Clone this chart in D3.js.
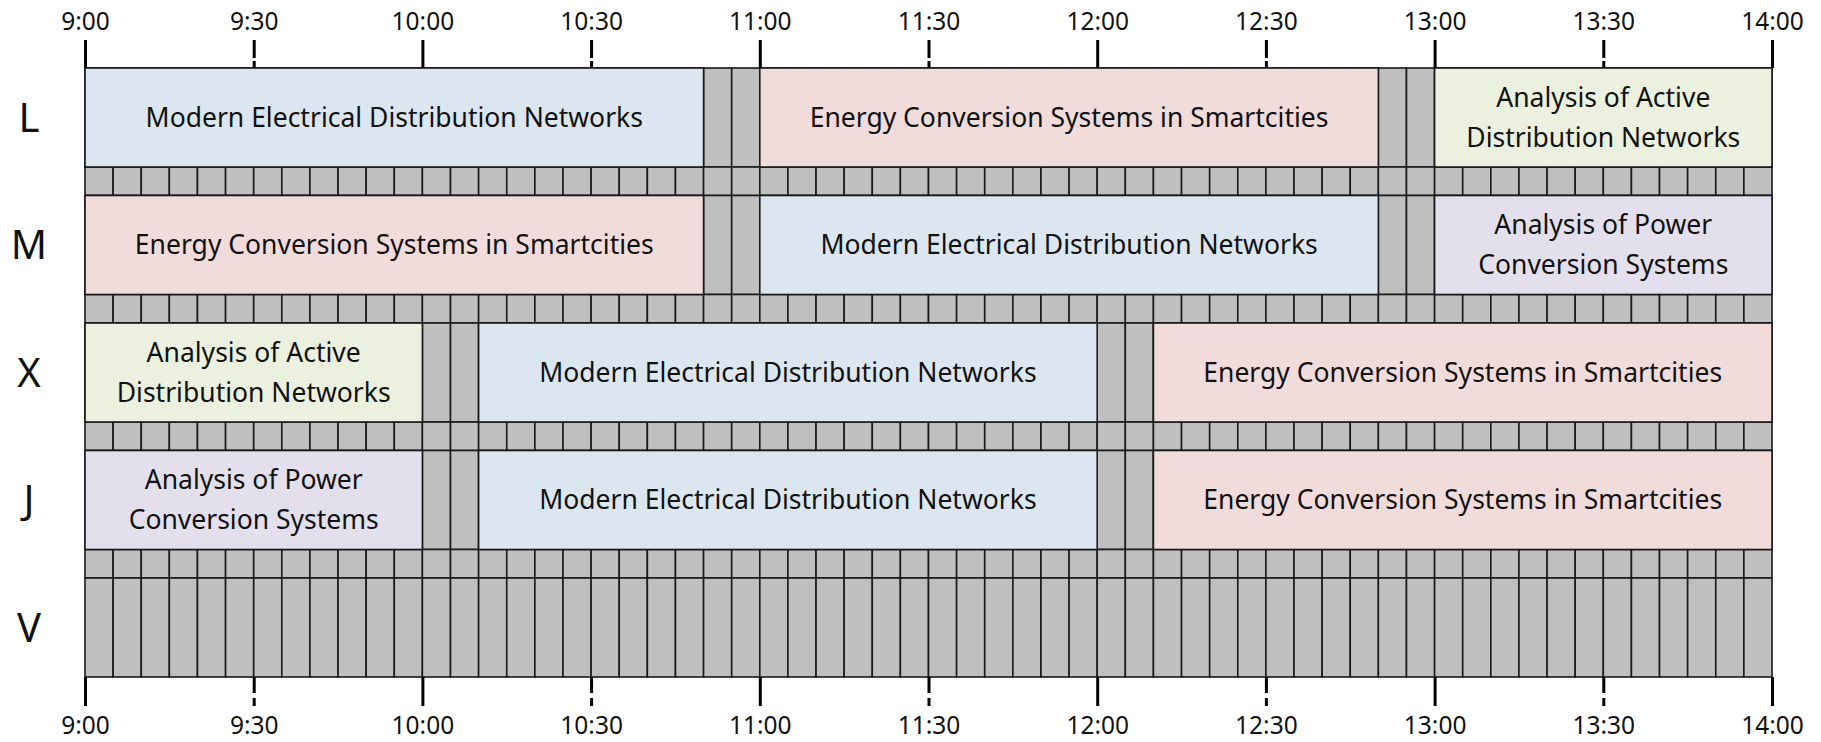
<!DOCTYPE html>
<html>
<head>
<meta charset="utf-8">
<script src="https://cdn.jsdelivr.net/npm/d3@7"></script>
<style>
  html, body { margin: 0; padding: 0; background: #fff; }
  svg { display: block; font-family: "Noto Sans", sans-serif; }
</style>
</head>
<body>
<svg id="chart" width="1821" height="742"></svg>
<script>
// ---- data ----
const rooms = ["L", "M", "X", "J", "V"];
const topics = [
  "Modern Electrical Distribution Networks",
  "Energy Conversion Systems in Smartcities",
  "Analysis of Active Distribution Networks",
  "Analysis of Power Conversion Systems"
];
const topicLines = [
  ["Modern Electrical Distribution Networks"],
  ["Energy Conversion Systems in Smartcities"],
  ["Analysis of Active", "Distribution Networks"],
  ["Analysis of Power", "Conversion Systems"]
];
const topicColors = ["#dce6f1", "#f2dcdb", "#ebf1de", "#e4dfec"];
// sessions
const sessionRoom  = ["L", "L", "L", "M", "M", "M", "X", "X", "X", "J", "J", "J"];
const sessionStart = ["9:00", "11:00", "13:00", "9:00", "11:00", "13:00", "9:00", "10:10", "12:10", "9:00", "10:10", "12:10"];
const sessionEnd   = ["10:50", "12:50", "14:00", "10:50", "12:50", "14:00", "10:00", "12:00", "14:00", "10:00", "12:00", "14:00"];
const sessionTopic = [0, 1, 2, 1, 0, 3, 2, 0, 1, 3, 0, 1];
const tickLabels = ["9:00", "9:30", "10:00", "10:30", "11:00", "11:30", "12:00", "12:30", "13:00", "13:30", "14:00"];
const dayStart = "9:00", dayEnd = "14:00", slotMinutes = 5;

// ---- helpers ----
const toMin = s => { const [h, m] = s.split(":").map(Number); return h * 60 + m; };

const svg = d3.select("#chart");
const x = d3.scaleLinear().domain([toMin(dayStart), toMin(dayEnd)]).range([85, 1772]);
const y = d3.scaleBand().domain(rooms).range([68, 677]).paddingInner(28.5 / 127.5).paddingOuter(0);
const step = y.step(), bw = y.bandwidth(), gapH = step - bw;

const slots = d3.range(toMin(dayStart), toMin(dayEnd), slotMinutes);
const stroke = "#1a1a1a", sw = 1.6;

// gray grid: main rows and gap rows
const gridRows = [];
rooms.forEach((r, i) => {
  gridRows.push({ y0: y(r), h: bw });
  if (i < rooms.length - 1) gridRows.push({ y0: y(r) + bw, h: gapH });
});
const grid = svg.append("g");
gridRows.forEach(gr => {
  grid.selectAll(null).data(slots).enter().append("rect")
    .attr("x", d => x(d)).attr("y", gr.y0)
    .attr("width", d => x(d + slotMinutes) - x(d)).attr("height", gr.h)
    .attr("fill", "#bfbfbf").attr("stroke", stroke).attr("stroke-width", sw);
});

// sessions
const sessions = sessionRoom.map((r, i) => ({ room: r, s: toMin(sessionStart[i]), e: toMin(sessionEnd[i]), t: sessionTopic[i] }));
const sg = svg.append("g").selectAll("g").data(sessions).enter().append("g");
sg.append("rect")
  .attr("x", d => x(d.s)).attr("y", d => y(d.room))
  .attr("width", d => x(d.e) - x(d.s)).attr("height", bw)
  .attr("fill", d => topicColors[d.t]).attr("stroke", stroke).attr("stroke-width", sw);
sg.each(function(d) {
  const lines = topicLines[d.t];
  const cx = (x(d.s) + x(d.e)) / 2, cy = y(d.room) + bw / 2;
  const lh = 40;
  const t = d3.select(this).append("text")
    .attr("text-anchor", "middle").attr("font-size", 26.5).attr("fill", "#111");
  lines.forEach((ln, k) => {
    t.append("tspan").attr("x", cx)
      .attr("y", cy + (k - (lines.length - 1) / 2) * lh)
      .attr("dy", "0.35em").text(ln);
  });
});

// row labels
svg.append("g").selectAll("text").data(rooms).enter().append("text")
  .attr("x", 29).attr("y", d => y(d) + bw / 2).attr("dy", "0.36em")
  .attr("text-anchor", "middle").attr("font-size", 40).attr("fill", "#111").text(d => d);

// axes
const tickVals = tickLabels.map(toMin);
const fmt = v => tickLabels[tickVals.indexOf(v)];
const topAxis = d3.axisTop(x).tickValues(tickVals).tickFormat(fmt).tickSize(28).tickPadding(10);
const botAxis = d3.axisBottom(x).tickValues(tickVals).tickFormat(fmt).tickSize(29).tickPadding(11);
function styleAxis(g, dash) {
  g.select(".domain").remove();
  g.selectAll(".tick line").attr("stroke", "#000").attr("stroke-width", 3)
    .attr("stroke-dasharray", d => (d % 60 === 0 ? null : dash));
  g.selectAll(".tick text").attr("font-size", 24.5).attr("fill", "#111")
    .attr("font-family", "Noto Sans, sans-serif");
}
svg.append("g").attr("transform", "translate(0,68)").call(topAxis).call(g => styleAxis(g, "7,3,18"));
svg.append("g").attr("transform", "translate(0,677)").call(botAxis).call(g => styleAxis(g, "16,5,8"));
</script>
</body>
</html>
